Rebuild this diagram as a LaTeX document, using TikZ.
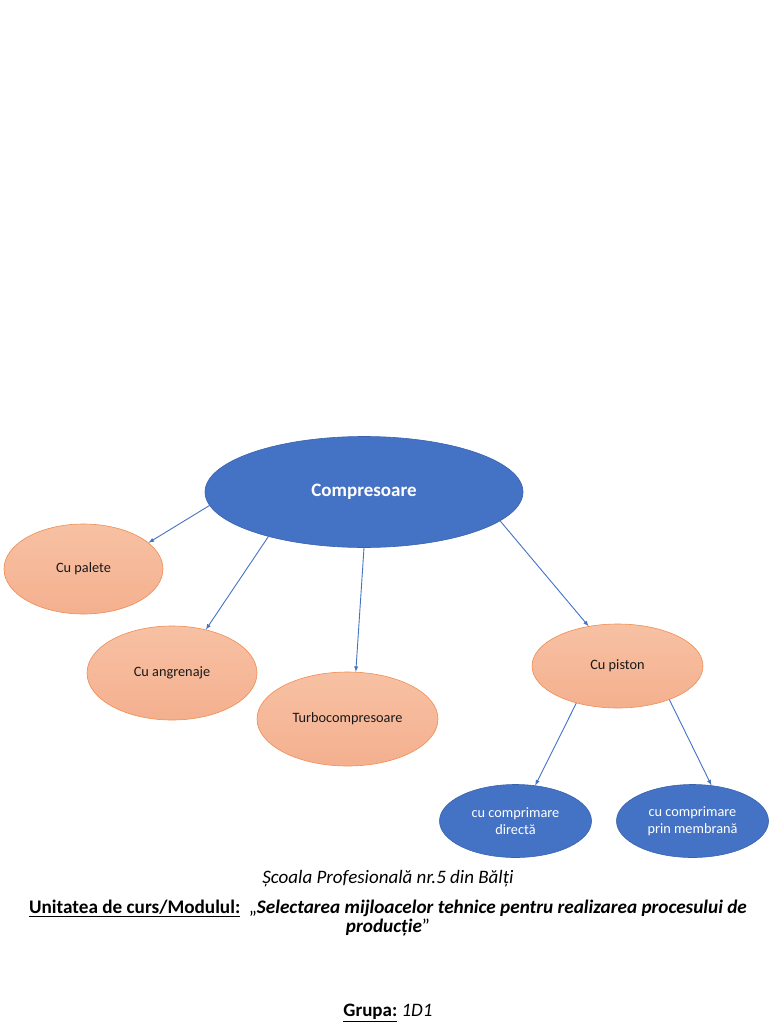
\documentclass[tikz,border=0pt]{standalone}
\usepackage{fontspec}
\setmainfont{Carlito}
\usepackage{xcolor}
\usepackage{tikz}
\usetikzlibrary{shapes.geometric}

\definecolor{blueA}{HTML}{4472C4}
\definecolor{blueB}{HTML}{3A63AE}
\definecolor{orangeA}{HTML}{F7C1A3}
\definecolor{orangeB}{HTML}{F4B08F}
\definecolor{orangeC}{HTML}{F08C52}

\begin{document}
\begin{tikzpicture}[>=latex, x=1pt, y=-1pt,
  bigblue/.style={ellipse, inner sep=0pt, fill=blueA, draw=blueB, line width=0.6pt,
    text=white, font=\fontsize{19}{23}\selectfont\bfseries},
  smallblue/.style={ellipse, inner sep=0pt, fill=blueA, draw=blueB, line width=0.6pt,
    text=white, align=center, minimum width=152pt, minimum height=73pt,
    font=\fontsize{14.3}{17.5}\selectfont},
  peach/.style={ellipse, inner sep=0pt, top color=orangeA, bottom color=orangeB,
    draw=orangeC, line width=0.6pt, text=black!90,
    font=\fontsize{14.3}{17.5}\selectfont},
  link/.style={->, blueA, line width=0.9pt}]
\useasboundingbox (0,0) rectangle (768,1024);

% ===== noduri =====
\node[bigblue, minimum width=318pt, minimum height=111pt] (comp) at (364,492) {Compresoare};
\node[peach, minimum width=159pt, minimum height=90pt] (palete) at (83.5,569) {Cu palete};
\node[peach, minimum width=170pt, minimum height=94pt] (angren) at (172,673) {Cu angrenaje};
\node[peach, minimum width=181pt, minimum height=94pt] (turbo) at (347.5,719) {Turbocompresoare};
\node[peach, minimum width=171pt, minimum height=84pt] (piston) at (617.5,666) {Cu piston};
\node[smallblue] (direct) at (515.5,821) {cu comprimare\\directă};
\node[smallblue] (membr) at (692.5,821) {cu comprimare\\prin membrană};

% ===== sageti =====
\draw[link] (comp.185) -- (palete.22);
\draw[link] (comp.205) -- (angren.52);
\draw[link] (comp.south) -- (turbo.80);
\draw[link] (comp.348) -- (piston.126);
\draw[link] (piston.222) -- (direct.61);
\draw[link] (piston.327) -- (membr.62);

% ===== text de jos =====
\node[font=\fontsize{19}{19}\selectfont\itshape] (scoala) at (388,879)
  {Școala Profesională nr.5 din Bălți};
\node[font=\fontsize{19.2}{19}\selectfont, align=center] (modul) at (388,918)
  {\textbf{\underline{Unitatea de curs/Modulul:}}\ \ „\textbf{\textit{Selectarea mijloacelor tehnice pentru realizarea procesului de}}\\
   \textbf{\textit{producție}}”};
\node[font=\fontsize{19}{19}\selectfont] (grupa) at (388,1013)
  {\textbf{\underline{Grupa:}} \textit{1D1}};
\end{tikzpicture}
\end{document}
